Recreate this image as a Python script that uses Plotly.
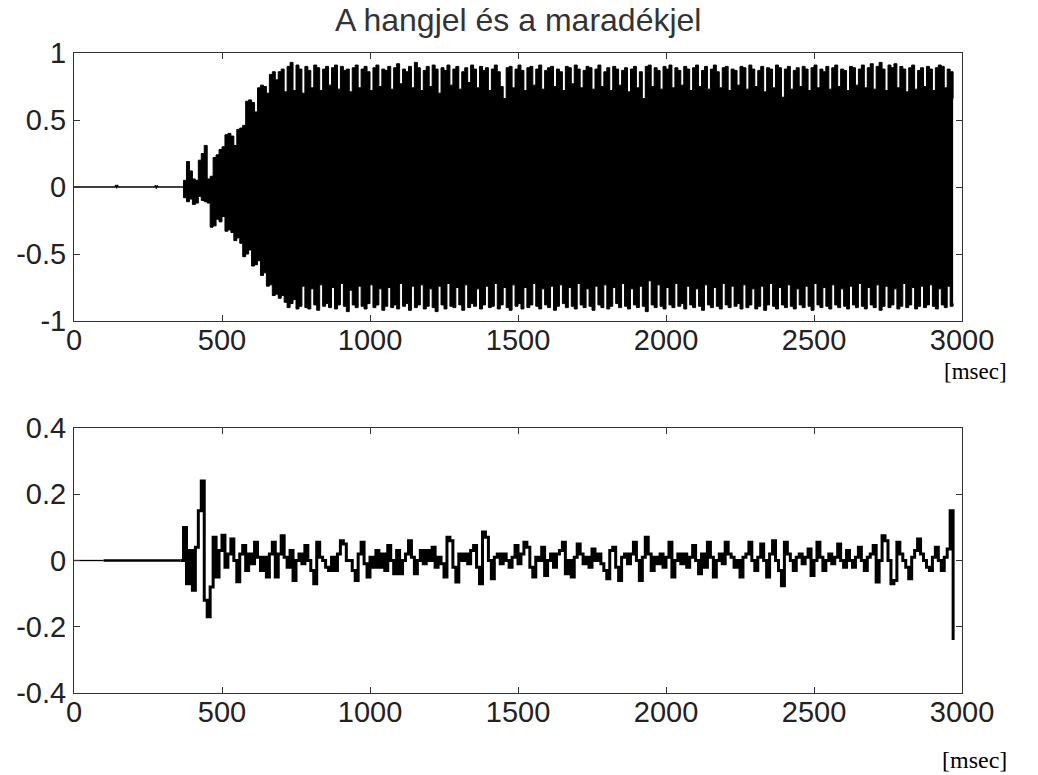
import numpy as np
import plotly.graph_objects as go

# ---------------- data ----------------
# top panel: quiet lead-in before the tone starts
t_lead_top = [0, 138, 141, 144, 147, 150, 272, 275, 278, 281, 284, 360]
v_lead_top = [0, 0, 0.015, -0.01, 0.015, 0, 0, 0.012, -0.012, 0.012, 0, 0]

# top panel: envelope of the dense waveform, one value per 10 ms from 360 ms
env_start = 360
env_step = 10
upper = [
    0.00, 0.05, 0.19, 0.12, 0.06, 0.05, 0.20, 0.25, 0.31, 0.06,
    0.08, 0.22, 0.24, 0.28, 0.30, 0.39, 0.40, 0.38, 0.31, 0.43,
    0.44, 0.46, 0.64, 0.65, 0.63, 0.56, 0.74, 0.76, 0.75, 0.70,
    0.84, 0.86, 0.80, 0.86, 0.88, 0.71, 0.90, 0.93, 0.72, 0.91,
    0.88, 0.70, 0.90, 0.87, 0.74, 0.91, 0.89, 0.72, 0.88, 0.90,
    0.76, 0.89, 0.91, 0.73, 0.90, 0.87, 0.88, 0.71, 0.89, 0.91,
    0.74, 0.88, 0.90, 0.86, 0.72, 0.89, 0.91, 0.75, 0.88, 0.87,
    0.90, 0.73, 0.89, 0.92, 0.77, 0.88, 0.86, 0.90, 0.74, 0.93,
    0.89, 0.72, 0.87, 0.90, 0.75, 0.91, 0.88, 0.70, 0.89, 0.87,
    0.91, 0.76, 0.88, 0.90, 0.73, 0.86, 0.89, 0.78, 0.91, 0.88,
    0.74, 0.90, 0.87, 0.89, 0.72, 0.88, 0.91, 0.86, 0.75, 0.66,
    0.89, 0.90, 0.74, 0.88, 0.91, 0.87, 0.72, 0.89, 0.90, 0.76,
    0.88, 0.91, 0.73, 0.87, 0.89, 0.90, 0.75, 0.88, 0.86, 0.72,
    0.90, 0.89, 0.77, 0.91, 0.88, 0.74, 0.87, 0.90, 0.89, 0.73,
    0.88, 0.91, 0.75, 0.86, 0.89, 0.72, 0.90, 0.88, 0.76, 0.87,
    0.89, 0.71, 0.88, 0.90, 0.74, 0.86, 0.66, 0.90, 0.91, 0.75,
    0.89, 0.87, 0.73, 0.90, 0.88, 0.91, 0.74, 0.89, 0.87, 0.76,
    0.90, 0.88, 0.72, 0.89, 0.91, 0.75, 0.87, 0.90, 0.73, 0.88,
    0.91, 0.86, 0.74, 0.89, 0.90, 0.72, 0.88, 0.87, 0.76, 0.90,
    0.89, 0.73, 0.91, 0.88, 0.75, 0.87, 0.90, 0.71, 0.89, 0.88,
    0.74, 0.91, 0.89, 0.67, 0.88, 0.90, 0.73, 0.87, 0.89, 0.75,
    0.90, 0.88, 0.72, 0.89, 0.91, 0.74, 0.88, 0.86, 0.90, 0.73,
    0.89, 0.91, 0.75, 0.88, 0.87, 0.72, 0.90, 0.89, 0.76, 0.88,
    0.91, 0.74, 0.89, 0.92, 0.73, 0.90, 0.93, 0.88, 0.72, 0.91,
    0.89, 0.92, 0.74, 0.90, 0.88, 0.71, 0.89, 0.91, 0.73, 0.87,
    0.89, 0.75, 0.90, 0.88, 0.72, 0.89, 0.91, 0.90, 0.74, 0.88,
    0.86, 0.66,
]
lower = [
    0.00, -0.08, -0.11, -0.09, -0.13, -0.12, -0.07, -0.10, -0.11, -0.12,
    -0.30, -0.29, -0.24, -0.26, -0.22, -0.33, -0.32, -0.34, -0.40, -0.38,
    -0.42, -0.52, -0.50, -0.47, -0.59, -0.58, -0.55, -0.66, -0.64, -0.74,
    -0.73, -0.81, -0.80, -0.83, -0.81, -0.86, -0.90, -0.87, -0.84, -0.91,
    -0.89, -0.74, -0.90, -0.91, -0.76, -0.88, -0.92, -0.73, -0.89, -0.87,
    -0.90, -0.75, -0.91, -0.88, -0.72, -0.89, -0.93, -0.77, -0.88, -0.90,
    -0.74, -0.89, -0.91, -0.87, -0.73, -0.90, -0.88, -0.76, -0.92, -0.89,
    -0.75, -0.90, -0.88, -0.91, -0.72, -0.89, -0.87, -0.92, -0.74, -0.90,
    -0.88, -0.73, -0.91, -0.89, -0.76, -0.90, -0.93, -0.74, -0.88, -0.91,
    -0.72, -0.89, -0.90, -0.75, -0.88, -0.92, -0.73, -0.90, -0.87, -0.89,
    -0.76, -0.91, -0.88, -0.74, -0.90, -0.89, -0.72, -0.91, -0.88, -0.75,
    -0.90, -0.92, -0.73, -0.89, -0.87, -0.91, -0.75, -0.90, -0.88, -0.72,
    -0.89, -0.91, -0.76, -0.88, -0.90, -0.74, -0.92, -0.89, -0.73, -0.87,
    -0.90, -0.75, -0.89, -0.91, -0.72, -0.88, -0.90, -0.76, -0.89, -0.92,
    -0.74, -0.88, -0.90, -0.73, -0.91, -0.89, -0.75, -0.87, -0.90, -0.72,
    -0.89, -0.91, -0.76, -0.88, -0.90, -0.74, -0.89, -0.93, -0.70, -0.88,
    -0.90, -0.73, -0.89, -0.91, -0.75, -0.88, -0.90, -0.72, -0.89, -0.87,
    -0.91, -0.74, -0.88, -0.90, -0.76, -0.89, -0.92, -0.73, -0.88, -0.90,
    -0.75, -0.89, -0.91, -0.72, -0.88, -0.90, -0.74, -0.89, -0.87, -0.91,
    -0.73, -0.90, -0.88, -0.76, -0.91, -0.89, -0.74, -0.92, -0.88, -0.72,
    -0.89, -0.91, -0.75, -0.88, -0.90, -0.73, -0.89, -0.91, -0.76, -0.88,
    -0.90, -0.74, -0.89, -0.92, -0.72, -0.88, -0.90, -0.75, -0.89, -0.91,
    -0.73, -0.88, -0.90, -0.76, -0.89, -0.91, -0.74, -0.88, -0.90, -0.72,
    -0.89, -0.91, -0.75, -0.88, -0.90, -0.73, -0.92, -0.89, -0.74, -0.90,
    -0.88, -0.76, -0.91, -0.89, -0.72, -0.90, -0.88, -0.75, -0.91, -0.89,
    -0.74, -0.90, -0.88, -0.73, -0.89, -0.91, -0.76, -0.88, -0.90, -0.74,
    -0.89, -0.87,
]

# bottom panel: residual, flat lead-in then one value per 10 ms from 360 ms
t_lead_res = [0, 100, 360]
v_lead_res = [0, 0, 0]
residual = [
    0.00, 0.10, -0.07, 0.03, -0.09, 0.04, 0.15, 0.24, -0.12, -0.17,
    -0.08, 0.07, -0.05, 0.03, 0.076, -0.02, 0.02, 0.065, 0.00, -0.064,
    0.02, 0.045, -0.03, 0.02, -0.01, 0.055, 0.01, -0.03, 0.01, -0.05,
    0.02, 0.055, -0.05, 0.02, 0.075, 0.01, -0.02, 0.03, -0.06, 0.00,
    0.02, -0.01, 0.045, 0.00, -0.03, -0.07, 0.055, 0.01, 0.00, -0.02,
    -0.03, 0.01, -0.03, 0.02, 0.06, 0.05, 0.00, 0.00, -0.03, -0.06,
    0.02, 0.055, -0.01, -0.05, 0.01, -0.02, 0.03, -0.02, 0.02, -0.03,
    0.045, 0.00, -0.04, 0.03, -0.04, 0.00, 0.02, 0.06, 0.01, -0.04,
    0.00, 0.03, -0.01, 0.03, 0.00, 0.04, -0.02, 0.01, -0.01, -0.05,
    0.07, 0.06, -0.02, -0.065, 0.02, 0.00, 0.02, -0.01, 0.03, 0.045,
    -0.02, -0.07, 0.086, 0.07, 0.00, -0.055, 0.01, 0.02, -0.01, 0.02,
    0.00, -0.02, 0.01, 0.045, -0.01, 0.02, 0.055, 0.04, -0.02, -0.05,
    0.01, 0.00, 0.04, -0.045, 0.00, 0.02, -0.02, 0.02, 0.03, 0.055,
    -0.04, 0.00, -0.05, 0.01, 0.05, 0.02, -0.01, 0.01, -0.02, 0.035,
    0.00, 0.02, -0.01, -0.03, -0.055, 0.03, 0.04, -0.02, -0.06, 0.01,
    0.02, -0.01, 0.02, 0.055, 0.00, -0.06, 0.01, 0.07, 0.02, -0.03,
    0.01, -0.01, 0.02, -0.02, 0.01, 0.055, -0.05, 0.00, 0.02, -0.01,
    0.02, -0.02, 0.01, 0.045, 0.00, -0.04, 0.02, -0.02, 0.055, 0.01,
    -0.05, 0.00, 0.02, -0.01, 0.055, 0.02, 0.01, -0.02, 0.00, -0.05,
    0.01, 0.02, 0.055, 0.00, -0.03, 0.01, 0.05, 0.00, -0.05, 0.02,
    0.06, 0.00, -0.03, -0.076, 0.055, 0.02, 0.00, -0.03, 0.01, 0.02,
    -0.01, 0.01, 0.035, -0.045, 0.00, 0.055, 0.01, -0.03, 0.00, 0.02,
    -0.01, 0.01, 0.05, 0.00, -0.02, 0.03, 0.00, -0.02, 0.01, 0.04,
    0.00, -0.03, 0.01, 0.02, 0.045, -0.065, 0.00, 0.075, 0.06, 0.00,
    -0.07, -0.06, 0.055, 0.02, 0.00, -0.02, -0.055, 0.01, 0.03, 0.065,
    0.02, 0.00, -0.02, -0.03, 0.01, 0.04, 0.00, -0.03, 0.01, 0.035,
    0.15, -0.24,
]

x_ticks = [0, 500, 1000, 1500, 2000, 2500, 3000]
x_ticktext = ["0", "500", "1000", "1500", "2000", "2500", "3000"]
y1_ticks = [-1, -0.5, 0, 0.5, 1]
y1_ticktext = ["-1", "-0.5", "0", "0.5", "1"]
y2_ticks = [-0.4, -0.2, 0, 0.2, 0.4]
y2_ticktext = ["-0.4", "-0.2", "0", "0.2", "0.4"]

title_text = "A hangjel és a maradékjel"
unit_text = "[msec]"

# ---------------- figure ----------------
t_env = env_start + env_step * np.arange(len(upper))
t_res = env_start + env_step * np.arange(len(residual))

W, H = 1038, 775
BLACK = "#000000"
AX = "#333333"

fig = go.Figure()
fig.add_trace(go.Scatter(x=t_lead_top, y=v_lead_top, mode="lines",
                         line=dict(color=BLACK, width=1.3), xaxis="x", yaxis="y"))
fig.add_trace(go.Scatter(x=t_env, y=lower, mode="lines",
                         line=dict(color=BLACK, width=1, shape="hv"), xaxis="x", yaxis="y"))
fig.add_trace(go.Scatter(x=t_env, y=upper, mode="lines", fill="tonexty",
                         fillcolor=BLACK,
                         line=dict(color=BLACK, width=1, shape="hv"), xaxis="x", yaxis="y"))

fig.add_trace(go.Scatter(x=t_lead_res[:2], y=v_lead_res[:2], mode="lines",
                         line=dict(color=BLACK, width=1.3), xaxis="x2", yaxis="y2"))
fig.add_trace(go.Scatter(x=t_lead_res[1:], y=v_lead_res[1:], mode="lines",
                         line=dict(color=BLACK, width=2.5), xaxis="x2", yaxis="y2"))
fig.add_trace(go.Scatter(x=t_res, y=residual, mode="lines",
                         line=dict(color=BLACK, width=3, shape="hv"), xaxis="x2", yaxis="y2"))

x_dom = [74 / W, 962 / W]
tick_font = dict(family="Liberation Sans, Arial, sans-serif", size=29, color="#222222")
common_axis = dict(showline=True, linecolor=AX, linewidth=1, mirror="ticks",
                   ticks="inside", ticklen=6, tickcolor=AX, tickwidth=1,
                   showgrid=False, zeroline=False, tickfont=tick_font,
                   fixedrange=True, automargin=False)

fig.update_layout(
    template="none",
    width=W, height=H, autosize=False,
    margin=dict(l=0, r=0, t=0, b=0, pad=0),
    paper_bgcolor="white", plot_bgcolor="white",
    showlegend=False,
    xaxis=dict(domain=x_dom, anchor="y", range=[0, 3000], tickmode="array",
               tickvals=x_ticks, ticktext=x_ticktext, ticklabelstandoff=-7, **common_axis),
    yaxis=dict(domain=[1 - 321 / H, 1 - 53 / H], anchor="x", range=[-1, 1],
               tickmode="array", tickvals=y1_ticks, ticktext=y1_ticktext,
               ticklabelstandoff=1, **common_axis),
    xaxis2=dict(domain=x_dom, anchor="y2", range=[0, 3000], tickmode="array",
                tickvals=x_ticks, ticktext=x_ticktext, ticklabelstandoff=-7, **common_axis),
    yaxis2=dict(domain=[1 - 693 / H, 1 - 428 / H], anchor="x2", range=[-0.4, 0.4],
                tickmode="array", tickvals=y2_ticks, ticktext=y2_ticktext,
                ticklabelstandoff=1, **common_axis),
    annotations=[
        dict(text=title_text, x=518 / W, y=1 - 20 / H, xref="paper", yref="paper",
             xanchor="center", yanchor="middle", showarrow=False,
             font=dict(family="Liberation Sans, Arial, sans-serif", size=32, color="#333333")),
        dict(text=unit_text, x=1009 / W, y=1 - 371 / H, xref="paper", yref="paper",
             xanchor="right", yanchor="middle", showarrow=False,
             font=dict(family="Liberation Serif, Times New Roman, serif", size=23, color="#000000")),
        dict(text=unit_text, x=1009 / W, y=1 - 760 / H, xref="paper", yref="paper",
             xanchor="right", yanchor="middle", showarrow=False,
             font=dict(family="Liberation Serif, Times New Roman, serif", size=24, color="#000000")),
    ],
)

fig.write_html("out.html")
